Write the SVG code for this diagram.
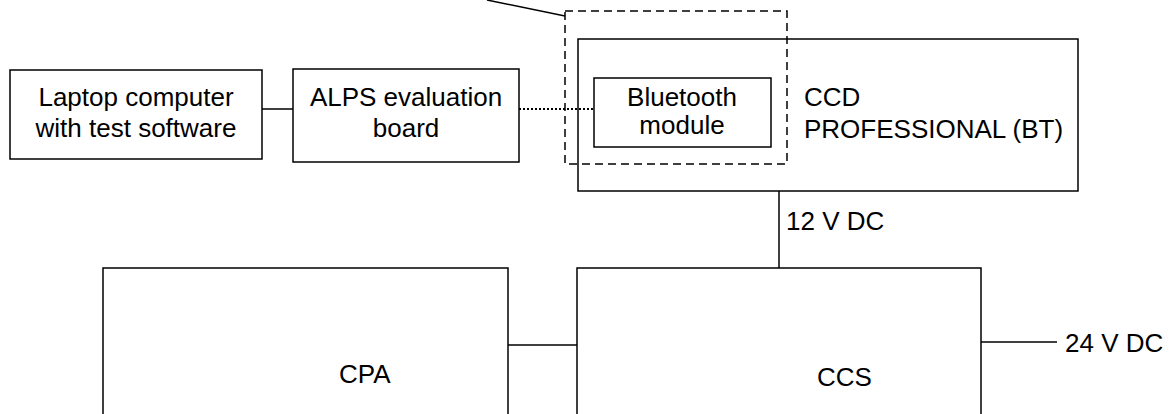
<svg xmlns="http://www.w3.org/2000/svg" width="1171" height="414" viewBox="0 0 1171 414">
<style>
.box{fill:#fff;stroke:#000;stroke-width:1.5}
.ln{fill:none;stroke:#000;stroke-width:1.5}
.dot{fill:none;stroke:#000;stroke-width:2;stroke-dasharray:2 2}
.dash{fill:none;stroke:#000;stroke-width:1.5;stroke-dasharray:8 5}
text{font-family:"Liberation Sans",Arial,sans-serif;font-size:26px;fill:#000}
.c{text-anchor:middle}
</style>
<rect width="1171" height="414" fill="#fff"/>
<g id="laptop">
<rect class="box" x="10" y="70" width="252" height="89"/>
<text class="c" x="136" y="106">Laptop computer</text>
<text class="c" x="136" y="137">with test software</text>
</g>
<g id="alps">
<rect class="box" x="293" y="69" width="226" height="93"/>
<text class="c" x="406" y="106">ALPS evaluation</text>
<text class="c" x="406" y="137">board</text>
</g>
<g id="ccd">
<rect class="box" x="578" y="39" width="500" height="152"/>
<text x="804" y="106">CCD</text>
<text x="804" y="138">PROFESSIONAL (BT)</text>
</g>
<g id="bluetooth">
<rect class="box" x="594" y="78" width="177" height="69"/>
<text class="c" x="682" y="106">Bluetooth</text>
<text class="c" x="682" y="134">module</text>
</g>
<g id="cpa">
<rect class="box" x="103" y="268" width="405" height="170"/>
<text x="339" y="383">CPA</text>
</g>
<g id="ccs">
<rect class="box" x="577" y="268" width="404" height="170"/>
<text x="817" y="386">CCS</text>
</g>
<g id="connectors">
<line class="ln" x1="262" y1="109" x2="293" y2="109"/>
<line class="dot" x1="519" y1="109" x2="594" y2="109"/>
<rect class="dash" x="565" y="11" width="222" height="153"/>
<polyline class="ln" points="487,0 565,16"/>
<line class="ln" x1="779" y1="191" x2="779" y2="268"/>
<line class="ln" x1="508" y1="345" x2="577" y2="345"/>
<line class="ln" x1="981" y1="342" x2="1057" y2="342"/>
<text x="786" y="230">12 V DC</text>
<text x="1065" y="352">24 V DC</text>
</g>
</svg>
